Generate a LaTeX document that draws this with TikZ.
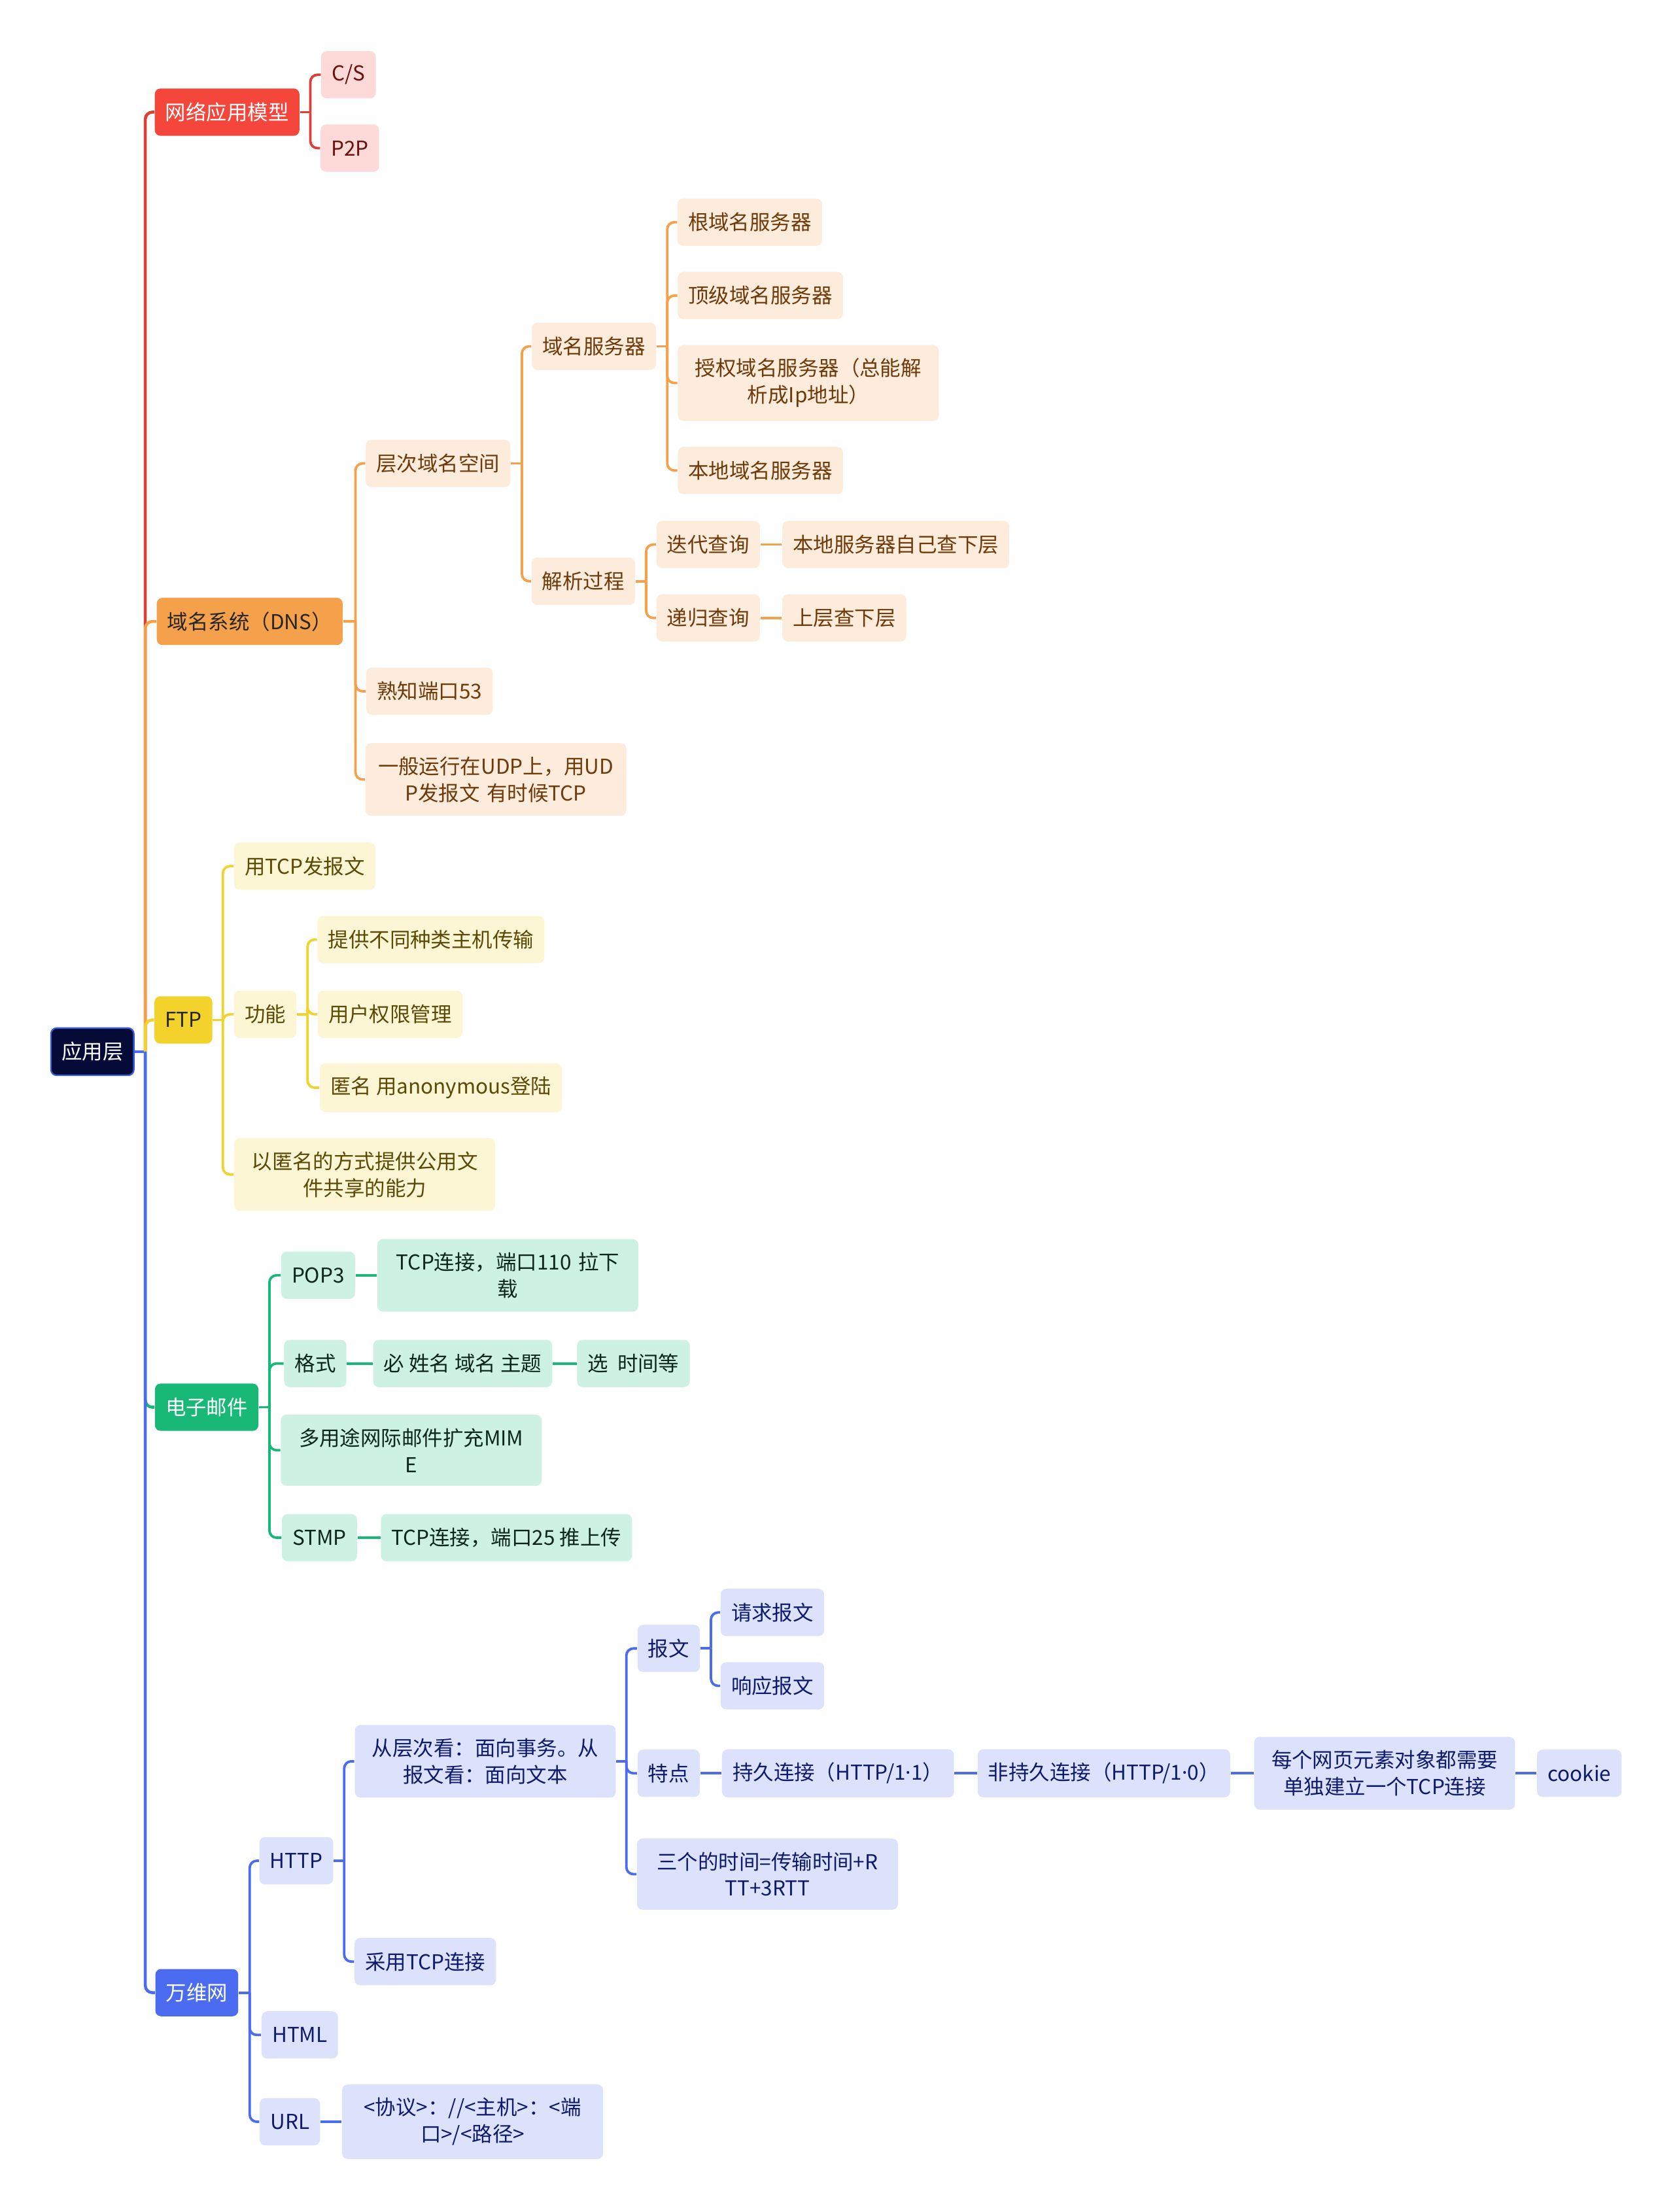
\documentclass[tikz,border=0pt]{standalone}
\usepackage{fontspec}
\setmainfont{Noto Sans CJK SC}
\newfontfamily\latinfont{Noto Sans}
\definecolor{rootfill}{HTML}{050A36}
\definecolor{rootedge}{HTML}{3A5BD8}
\definecolor{redmain}{HTML}{F5463C}
\definecolor{redsub}{HTML}{FDDAD8}
\definecolor{redtext}{HTML}{6B0F0F}
\definecolor{orgmain}{HTML}{F5A04B}
\definecolor{orgsub}{HTML}{FDEBDB}
\definecolor{orgtext}{HTML}{6E3A0A}
\definecolor{yelmain}{HTML}{F3D22B}
\definecolor{yelsub}{HTML}{FDF6D4}
\definecolor{yeltext}{HTML}{5A4A05}
\definecolor{grnmain}{HTML}{18B877}
\definecolor{grnsub}{HTML}{CDF1E2}
\definecolor{grntext}{HTML}{0D261B}
\definecolor{blumain}{HTML}{4B6BF0}
\definecolor{blusub}{HTML}{DCE2FB}
\definecolor{blutext}{HTML}{0E1A6B}

\begin{document}
\begin{tikzpicture}[x=0.02cm,y=-0.02cm,
    box/.style={rounded corners=0.08cm, inner xsep=0.15cm, inner ysep=0.19cm,
      minimum height=0.67cm, align=center, font=\fontsize{8.3}{10.8}\selectfont},
    wrap/.style={text width=3.4cm},
    rootbox/.style={box, fill=rootfill, draw=rootedge, line width=0.6pt, text=white},
    redtop/.style={box, fill=redmain, text=white},
    redbox/.style={box, fill=redsub, text=redtext},
    orgtop/.style={box, fill=orgmain, text=black!85},
    orgbox/.style={box, fill=orgsub, text=orgtext},
    yeltop/.style={box, fill=yelmain, text=black!85},
    yelbox/.style={box, fill=yelsub, text=yeltext},
    grntop/.style={box, fill=grnmain, text=white},
    grnbox/.style={box, fill=grnsub, text=grntext},
    blutop/.style={box, fill=blumain, text=white},
    blubox/.style={box, fill=blusub, text=blutext},
    link/.style={line width=1pt, rounded corners=0.1cm},
    redline/.style={link, draw=redmain!90!black},
    orgline/.style={link, draw=orgmain},
    yelline/.style={link, draw=yelmain},
    grnline/.style={link, draw=grnmain},
    bluline/.style={link, draw=blumain}]

\fill[white] (0,0) rectangle (1187,1568);
\useasboundingbox (0,0) rectangle (1187,1568);

\node[rootbox] (root) at (65.5,745.5) {应用层};

\node[redtop] (model) at (161,79.5) {网络应用模型};
\node[orgtop] (dns) at (177,440.5) {域名系统（DNS）};
\node[yeltop] (ftp) at (130,723) {FTP};
\node[grntop] (mail) at (146.5,997.5) {电子邮件};
\node[blutop] (www) at (139.5,1412.5) {万维网};

\node[redbox] (cs) at (247,53) {C/S};
\node[redbox] (p2p) at (248,105) {P2P};

\node[orgbox] (space) at (310.5,328.5) {层次域名空间};
\node[orgbox] (port) at (304.5,490) {熟知端口53};
\node[orgbox, wrap] (udp) at (351.5,552.5) {一般运行在UDP上，用UD\\P发报文 有时候TCP};
\node[orgbox] (srv) at (421,245.5) {域名服务器};
\node[orgbox] (parse) at (413.5,412) {解析过程};
\node[orgbox] (rootsrv) at (531.5,157.5) {根域名服务器};
\node[orgbox] (topsrv) at (539,209.5) {顶级域名服务器};
\node[orgbox, wrap] (authsrv) at (573,271.5) {授权域名服务器（总能解\\析成Ip地址）};
\node[orgbox] (localsrv) at (539,333.5) {本地域名服务器};
\node[orgbox] (iter) at (502,386) {迭代查询};
\node[orgbox] (recur) at (502,438) {递归查询};
\node[orgbox] (iterres) at (635,386) {本地服务器自己查下层};
\node[orgbox] (recres) at (598.5,438) {上层查下层};

\node[yelbox] (tcpmsg) at (216,614) {用TCP发报文};
\node[yelbox] (func) at (188,719) {功能};
\node[yelbox, wrap] (share) at (258.5,832.5) {以匿名的方式提供公用文\\件共享的能力};
\node[yelbox] (hosts) at (305.5,666) {提供不同种类主机传输};
\node[yelbox] (perm) at (276.5,719) {用户权限管理};
\node[yelbox] (anon) at (312.5,771) {匿名 用anonymous登陆};

\node[grnbox] (pop) at (225.5,904) {POP3};
\node[grnbox] (fmt) at (223.5,966.5) {格式};
\node[grnbox, wrap] (mime) at (291.5,1028) {多用途网际邮件扩充MIM\\E};
\node[grnbox] (smtp) at (226.5,1090) {STMP};
\node[grnbox, wrap] (popres) at (360,904) {TCP连接，端口110 拉下\\载};
\node[grnbox] (must) at (328,966.5) {必 姓名 域名 主题};
\node[grnbox] (opt) at (449,966.5) {选~~时间等};
\node[grnbox] (smtpres) at (359,1090) {TCP连接，端口25 推上传};

\node[blubox] (http) at (210,1319) {HTTP};
\node[blubox] (html) at (212.5,1442.5) {HTML};
\node[blubox] (url) at (205.5,1504) {URL};
\node[blubox, wrap] (urlres) at (335,1504) {<协议>：//<主机>：<端\\口>/<路径>};
\node[blubox, wrap] (view) at (344,1248.5) {从层次看：面向事务。从\\报文看：面向文本};
\node[blubox] (usetcp) at (301.5,1390.5) {采用TCP连接};
\node[blubox] (msg) at (474,1168.5) {报文};
\node[blubox] (feat) at (474,1257) {特点};
\node[blubox, wrap] (rtt) at (544,1328.5) {三个的时间=传输时间+R\\TT+3RTT};
\node[blubox] (req) at (547.5,1143) {请求报文};
\node[blubox] (resp) at (547.5,1195) {响应报文};
\node[blubox] (persist) at (594,1257) {持久连接（HTTP/1{\latinfont ·}1）};
\node[blubox] (nonpersist) at (782.5,1257) {非持久连接（HTTP/1{\latinfont ·}0）};
\node[blubox, wrap] (each) at (981.5,1257) {每个网页元素对象都需要\\单独建立一个TCP连接};
\node[blubox] (cookie) at (1119.5,1257) {cookie};

\coordinate (rj) at (103,745.5);
\coordinate (mj) at (220,79.5);
\coordinate (dj) at (252,440.5);
\coordinate (sj) at (370,328.5);
\coordinate (svj) at (473,245.5);
\coordinate (pj) at (458,412);
\coordinate (fj) at (158,723);
\coordinate (fnj) at (218,719);
\coordinate (ej) at (191,997.5);
\coordinate (wj) at (177,1412.5);
\coordinate (hj) at (244,1319);
\coordinate (vj) at (444,1248.5);
\coordinate (mgj) at (504,1168.5);

\draw[bluline, line width=1.2pt] (root.east) -- (rj);
\draw[redline, line width=1.2pt] (rj) |- (model.west);
\draw[orgline, line width=1.2pt] (rj) |- (dns.west);
\draw[yelline, line width=1.2pt] (rj) |- (ftp.west);
\draw[grnline, line width=1.2pt] (rj) |- (mail.west);
\draw[bluline, line width=1.2pt] (rj) |- (www.west);

\draw[redline] (model.east) -- (mj);
\draw[redline] (mj) |- (cs.west);
\draw[redline] (mj) |- (p2p.west);

\draw[orgline] (dns.east) -- (dj);
\draw[orgline] (dj) |- (space.west);
\draw[orgline] (dj) |- (port.west);
\draw[orgline] (dj) |- (udp.west);
\draw[orgline] (space.east) -- (sj);
\draw[orgline] (sj) |- (srv.west);
\draw[orgline] (sj) |- (parse.west);
\draw[orgline] (srv.east) -- (svj);
\draw[orgline] (svj) |- (rootsrv.west);
\draw[orgline] (svj) |- (topsrv.west);
\draw[orgline] (svj) |- (authsrv.west);
\draw[orgline] (svj) |- (localsrv.west);
\draw[orgline] (parse.east) -- (pj);
\draw[orgline] (pj) |- (iter.west);
\draw[orgline] (pj) |- (recur.west);
\draw[orgline] (iter.east) -- (iterres.west);
\draw[orgline] (recur.east) -- (recres.west);

\draw[yelline] (ftp.east) -- (fj);
\draw[yelline] (fj) |- (tcpmsg.west);
\draw[yelline] (fj) |- (func.west);
\draw[yelline] (fj) |- (share.west);
\draw[yelline] (func.east) -- (fnj);
\draw[yelline] (fnj) |- (hosts.west);
\draw[yelline] (fnj) |- (perm.west);
\draw[yelline] (fnj) |- (anon.west);

\draw[grnline] (mail.east) -- (ej);
\draw[grnline] (ej) |- (pop.west);
\draw[grnline] (ej) |- (fmt.west);
\draw[grnline] (ej) |- (mime.west);
\draw[grnline] (ej) |- (smtp.west);
\draw[grnline] (pop.east) -- (popres.west);
\draw[grnline] (fmt.east) -- (must.west);
\draw[grnline] (must.east) -- (opt.west);
\draw[grnline] (smtp.east) -- (smtpres.west);

\draw[bluline] (www.east) -- (wj);
\draw[bluline] (wj) |- (http.west);
\draw[bluline] (wj) |- (html.west);
\draw[bluline] (wj) |- (url.west);
\draw[bluline] (url.east) -- (urlres.west);
\draw[bluline] (http.east) -- (hj);
\draw[bluline] (hj) |- (view.west);
\draw[bluline] (hj) |- (usetcp.west);
\draw[bluline] (view.east) -- (vj);
\draw[bluline] (vj) |- (msg.west);
\draw[bluline] (vj) |- (feat.west);
\draw[bluline] (vj) |- (rtt.west);
\draw[bluline] (msg.east) -- (mgj);
\draw[bluline] (mgj) |- (req.west);
\draw[bluline] (mgj) |- (resp.west);
\draw[bluline] (feat.east) -- (persist.west);
\draw[bluline] (persist.east) -- (nonpersist.west);
\draw[bluline] (nonpersist.east) -- (each.west);
\draw[bluline] (each.east) -- (cookie.west);
\end{tikzpicture}
\end{document}
